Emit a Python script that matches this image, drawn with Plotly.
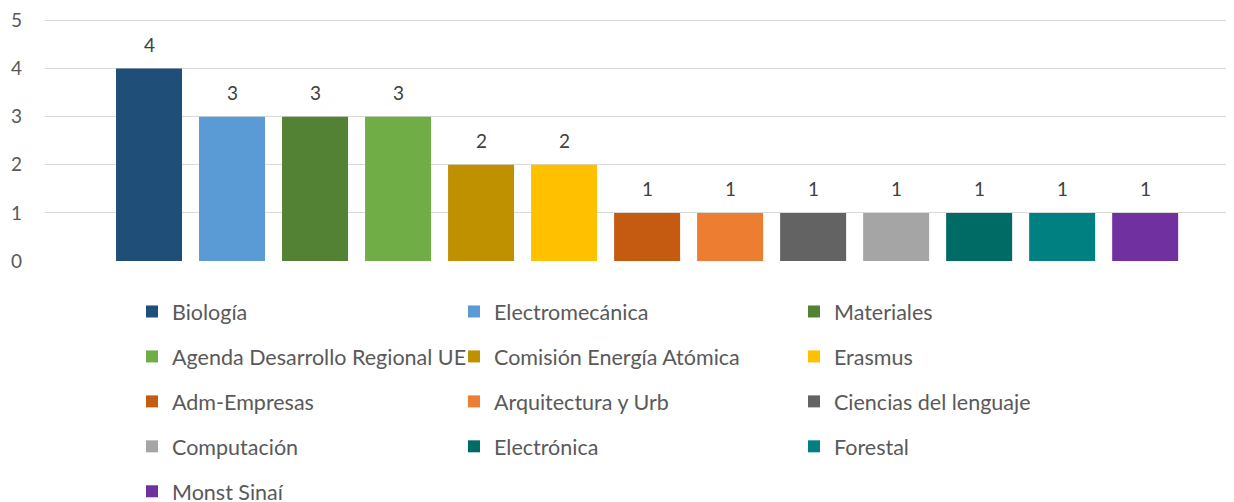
import plotly.graph_objects as go

categories = ["Biología", "Electromecánica", "Materiales",
              "Agenda Desarrollo Regional UE", "Comisión Energía Atómica", "Erasmus",
              "Adm-Empresas", "Arquitectura y Urb", "Ciencias del lenguaje",
              "Computación", "Electrónica", "Forestal", "Monst Sinaí"]
values = [4, 3, 3, 3, 2, 2, 1, 1, 1, 1, 1, 1, 1]
colors = ["#1F4E79", "#5B9BD5", "#548235", "#70AD47", "#BF9000", "#FFC000",
          "#C55A11", "#ED7D31", "#636363", "#A5A5A5", "#006A65", "#008080", "#7030A0"]
y_ticks = [0, 1, 2, 3, 4, 5]

FONT = "Lato"
legends = ["legend", "legend2", "legend3"]

fig = go.Figure()
for i, (name, v, c) in enumerate(zip(categories, values, colors)):
    fig.add_trace(go.Bar(
        x=[i], y=[v], name=name, marker=dict(color=c, line=dict(width=0)),
        width=0.795, legend=legends[i % 3], legendgroup=name,
        hoverinfo="name+y",
    ))
    fig.add_annotation(x=i, y=v, text=str(v), showarrow=False,
                       yanchor="bottom", yshift=10.5,
                       font=dict(family=FONT, size=19, color="#404040"))

legend_style = dict(orientation="v", xref="container", yref="container",
                    yanchor="top", xanchor="left", tracegroupgap=14,
                    font=dict(family=FONT, size=21.5, color="#595959"),
                    bgcolor="rgba(0,0,0,0)", itemclick=False)
lx = [124, 446, 786]
layout_legends = {}
for k, key in enumerate(legends):
    d = dict(legend_style)
    d["x"] = lx[k] / 1234
    d["y"] = 1 - 283 / 502
    layout_legends[key] = d

fig.update_layout(
    width=1234, height=502,
    margin=dict(l=37, r=8, t=10.5, b=249, autoexpand=False),
    plot_bgcolor="white", paper_bgcolor="white",
    barmode="overlay",
    showlegend=True,
    xaxis=dict(range=[-1.253, 13.07], showticklabels=False, showgrid=False,
               zeroline=False, showline=False, fixedrange=True),
    yaxis=dict(range=[0, 5.03], tickvals=y_ticks, showgrid=True, gridcolor="#D9D9D9",
               gridwidth=1.3, zeroline=False, showline=False,
               ticklabelstandoff=22,
               tickfont=dict(family=FONT, size=19, color="#595959")),
    **layout_legends,
)

fig.write_html("out.html")
